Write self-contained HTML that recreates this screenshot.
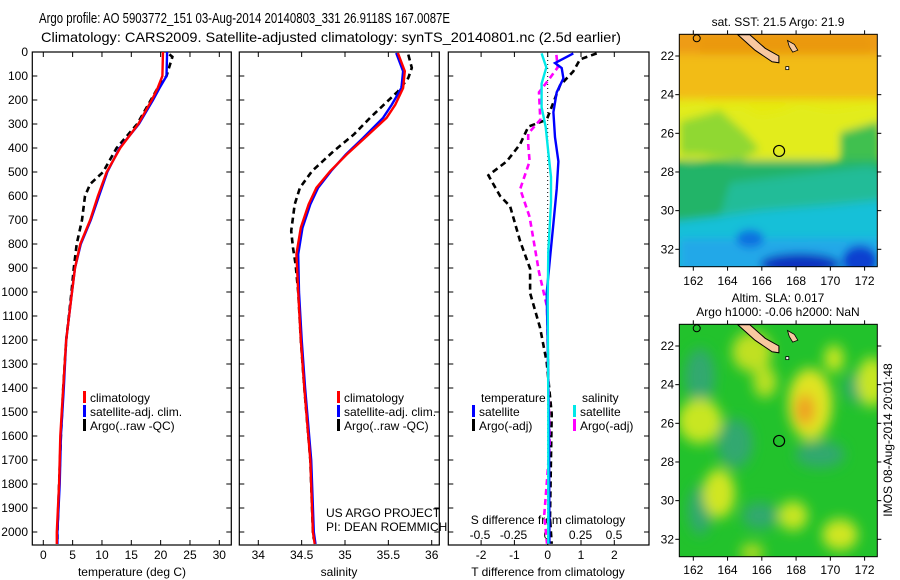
<!DOCTYPE html>
<html><head><meta charset="utf-8">
<style>
body{margin:0;background:#fff;}
svg{display:block;font-family:"Liberation Sans",sans-serif;}
</style></head>
<body>
<svg id="fig" width="900" height="580" viewBox="0 0 900 580" xmlns="http://www.w3.org/2000/svg">
<rect width="900" height="580" fill="#fff"/>
<text x="39" y="23" font-size="14.5" textLength="411" lengthAdjust="spacingAndGlyphs">Argo profile: AO 5903772_151 03-Aug-2014 20140803_331 26.9118S 167.0087E</text>
<text x="41" y="42" font-size="14" textLength="580" lengthAdjust="spacingAndGlyphs">Climatology: CARS2009. Satellite-adjusted climatology: synTS_20140801.nc (2.5d earlier)</text>
<g id="plots"></g>
<defs>
<filter id="blur1" x="-20%" y="-20%" width="140%" height="140%"><feGaussianBlur stdDeviation="4"/></filter>
<filter id="blur2" x="-20%" y="-20%" width="140%" height="140%"><feGaussianBlur stdDeviation="6"/></filter>
<clipPath id="clipTop"><rect x="679.3" y="34.3" width="198" height="232.4"/></clipPath>
<clipPath id="clipBot"><rect x="679.3" y="324.3" width="198" height="232.4"/></clipPath>
</defs>
<g clip-path="url(#clipTop)">
<g transform="translate(0,34.3) scale(1,1.117) translate(0,-32)">
<rect x="679" y="32" width="199" height="209" fill="#e6ea10"/>
<g filter="url(#blur1)">
<rect x="670" y="20" width="220" height="30" fill="#ee9c14"/>
<rect x="700" y="35" width="170" height="25" fill="#ea9810"/>
<rect x="670" y="50" width="220" height="40" fill="#f2bc14"/>
<polygon points="670,95 700,92 720,100 740,96 760,105 780,102 800,95 830,100 870,95 890,100 890,120 870,125 850,118 840,140 800,150 770,145 740,148 720,140 690,145 670,140" fill="#e2ec1a"/>
<polygon points="680,110 720,100 745,120 760,135 740,145 700,140 680,140" fill="#90d830"/>
<polygon points="840,120 880,110 880,150 840,150" fill="#40c050"/>
<rect x="670" y="145" width="220" height="100" fill="#20b468"/>
<polygon points="730,165 870,150 890,160 890,240 700,240 720,195" fill="#20bc98"/>
<polygon points="670,200 720,195 760,190 830,185 890,180 890,250 670,250" fill="#18c0d8"/>
<rect x="680" y="215" width="200" height="30" fill="#20a8e8"/>
<ellipse cx="800" cy="238" rx="40" ry="10" fill="#1030c0"/>
<ellipse cx="860" cy="235" rx="18" ry="14" fill="#1040d0"/>
<ellipse cx="750" cy="215" rx="14" ry="8" fill="#1070e0"/>
</g>
</g>
</g>
<g clip-path="url(#clipBot)">
<g transform="translate(0,324.3) scale(1,1.115) translate(0,-293.3)">
<rect x="679" y="293" width="199" height="210" fill="#22c22c"/>
<g filter="url(#blur2)">
<ellipse cx="700" cy="340" rx="15" ry="25" fill="#30a870"/>
<ellipse cx="735" cy="400" rx="18" ry="22" fill="#30a870"/>
<ellipse cx="700" cy="460" rx="12" ry="22" fill="#30a870"/>
<ellipse cx="820" cy="410" rx="25" ry="12" fill="#30a870"/>
<ellipse cx="858" cy="350" rx="14" ry="14" fill="#30a870"/>
<ellipse cx="760" cy="465" rx="18" ry="12" fill="#30a870"/>
<ellipse cx="752" cy="318" rx="20" ry="18" fill="#c0e020"/>
<ellipse cx="765" cy="345" rx="12" ry="14" fill="#b8e020"/>
<ellipse cx="700" cy="380" rx="22" ry="20" fill="#c8e620"/>
<ellipse cx="810" cy="365" rx="22" ry="32" fill="#e0e420"/>
<ellipse cx="805" cy="370" rx="10" ry="14" fill="#eea020"/>
<ellipse cx="834" cy="324" rx="10" ry="12" fill="#c8e620"/>
<ellipse cx="872" cy="345" rx="15" ry="22" fill="#c8e620"/>
<ellipse cx="719" cy="445" rx="16" ry="22" fill="#d0e620"/>
<ellipse cx="793" cy="465" rx="15" ry="13" fill="#c8e620"/>
<ellipse cx="840" cy="482" rx="18" ry="14" fill="#d0e620"/>
<ellipse cx="752" cy="498" rx="12" ry="8" fill="#b0dc20"/>
</g>
</g>
</g>
<g id="maps"></g>
<text transform="translate(892,440) rotate(-90)" text-anchor="middle" font-size="12">IMOS 08-Aug-2014 20:01:48</text>
</svg>
<script>
// ---------- data ----------
const tempDepth   = [0,100,150,200,300,400,500,600,700,800,900,1000,1200,1400,1600,1800,2000,2050];
const tempClim    = [20.4,20.3,19.5,18.5,16.2,13.1,10.8,9.3,8.0,6.3,5.4,4.9,3.9,3.4,2.9,2.7,2.3,2.3];
const tempSat     = [21.1,21.0,19.8,18.7,16.3,13.0,10.9,9.5,8.1,6.4,5.4,4.9,3.9,3.5,3.0,2.8,2.4,2.4];
const argoTDepth  = [10,20,100,150,300,400,500,550,600,700,800,900,1000,1200,1400,1600,1800,2000,2030];
const argoTemp    = [21.5,22.0,21.0,19.5,16.0,12.5,10.2,8.0,7.1,6.6,5.7,5.2,4.8,3.9,3.4,3.0,2.7,2.4,2.4];

const salDepth    = [4,80,150,219,274,358,427,496,566,635,732,843,1000,1200,1400,1700,2000,2050];
const salClim     = [35.61,35.69,35.67,35.58,35.48,35.23,35.02,34.83,34.67,34.58,34.49,34.44,34.46,34.49,34.53,34.60,34.63,34.65];
const salSat      = [35.59,35.67,35.65,35.54,35.44,35.21,35.01,34.84,34.69,34.60,34.51,34.46,34.47,34.50,34.54,34.61,34.64,34.66];
const argoSDepth  = [11,66,108,164,274,344,413,496,566,635,746,816,885,1000,1200,1400,1700,2000,2030];
const argoSal     = [35.73,35.77,35.73,35.61,35.29,35.10,34.87,34.62,34.48,34.42,34.38,34.40,34.43,34.46,34.49,34.53,34.60,34.63,34.64];

const dTDepth     = [6,46,67,110,168,251,355,456,571,715,859,1004,1220,1559,2049];
const dTSat       = [0.77,0.22,0.42,0.47,0.27,0.17,0.22,0.32,0.27,0.17,0.07,-0.03,0.0,0.04,0.05];
const dTArgoDepth = [6,31,81,139,282,311,384,456,514,600,643,788,903,1004,1148,1292,1508,1941,2049];
const dTArgo      = [1.47,0.97,0.77,0.37,-0.03,-0.58,-0.83,-1.23,-1.78,-1.43,-1.13,-0.83,-0.53,-0.53,-0.23,-0.03,0.12,0.07,0.12];
const dSDepth     = [6,64,132,230,313,417,521,625,729,832,1040,1455,2049];
const dSSat       = [-0.04,-0.005,-0.04,-0.04,-0.01,0.01,0.03,0.03,0.02,0.01,0.005,0.01,0.01];
const dSArgoDepth = [12,64,110,168,282,340,384,456,571,687,917,1062,1351,1639,1927,2049];
const dSArgo      = [0.07,0.08,0.02,-0.06,-0.05,-0.14,-0.14,-0.13,-0.2,-0.13,-0.06,0.0,0.01,0.02,-0.02,0.0];

const depthTicks  = [0,100,200,300,400,500,600,700,800,900,1000,1100,1200,1300,1400,1500,1600,1700,1800,1900,2000];
const tempTicks   = [0,5,10,15,20,25,30];
const salTicks    = [34,34.5,35,35.5,36];
const salTickLabels = ["34","34.5","35","35.5","36"];
const dTTicks     = [-2,-1,0,1,2];
const dSTicks     = [-0.5,-0.25,0,0.25,0.5];
const dSTickLabels = ["-0.5","-0.25","0","0.25","0.5"];
const lonTicks    = [162,164,166,168,170,172];
const latTicks    = [22,24,26,28,30,32];
const argoLon = 167.0087, argoLat = 26.9118;

// ---------- helpers ----------
const NS = "http://www.w3.org/2000/svg";
const root = document.getElementById('plots');
function mk(tag, attrs, parent){
  const e = document.createElementNS(NS, tag);
  for (const k in attrs) e.setAttribute(k, attrs[k]);
  (parent||root).appendChild(e);
  return e;
}
const yD = d => 52 + d*0.24;
const P1 = {l:32.3, r:231.3}, P2 = {l:239.3, r:439.3}, P3 = {l:448.3, r:649};
const TOPY = 52, BOTY = 545;
const xT  = t => 43.3 + t*5.867;
const xS  = s => 258.3 + (s-34)*86.7;
const xdT = t => 547.7 + t*33.3;
const xdS = s => 547 + s*134;

function frame(P, name){
  const r = mk('rect', {x:P.l, y:TOPY, width:P.r-P.l, height:BOTY-TOPY, fill:'none', stroke:'#000', 'stroke-width':1.2});
  
  
  depthTicks.forEach(d=>{
    mk('line',{x1:P.l,x2:P.l+5,y1:yD(d),y2:yD(d),stroke:'#000'});
    mk('line',{x1:P.r,x2:P.r-5,y1:yD(d),y2:yD(d),stroke:'#000'});
  });
}
function xticks(vals, fx, labels, y, name){
  vals.forEach((v,i)=>{
    const x = fx(v);
    mk('line',{x1:x,x2:x,y1:BOTY,y2:BOTY-5,stroke:'#000'});
    mk('line',{x1:x,x2:x,y1:TOPY,y2:TOPY+5,stroke:'#000'});
    if (labels){
      const t = mk('text',{x:x,y:y,'text-anchor':'middle','font-size':12});
      t.textContent = labels[i];
      
      
    }
  });
}
function line(depths, vals, fx, color, dashed, name){
  const pts = depths.map((d,i)=>fx(vals[i]).toFixed(1)+','+yD(d).toFixed(1)).join(' ');
  const attrs = {points:pts, fill:'none', stroke:color, 'stroke-width':dashed?2.6:2.4};
  if (dashed) attrs['stroke-dasharray'] = '6,4';
  const p = mk('polyline', attrs);
  
  
}
function label(x,y,txt,name,opts,parent){
  const t = mk('text', Object.assign({x:x,y:y,'font-size':12}, opts||{}), parent);
  t.textContent = txt;
  
  
  return t;
}
function legendItem(x,y,color,txt,name){
  mk('rect',{x:x,y:y-11,width:3,height:12,fill:color});
  label(x+7,y,txt,name);
}

// ---------- panel 1 ----------
frame(P1,'temperature-panel');
depthTicks.forEach(d=>label(28,yD(d)+4,String(d),'depth-tick-label',{'text-anchor':'end'}));
xticks(tempTicks, xT, tempTicks.map(String), 559, 'temperature-tick-label');
label(132,576,'temperature (deg C)','temperature-axis-title',{'text-anchor':'middle'});
line(argoTDepth, argoTemp, xT, '#000', true, 'argo-temperature-line');
line(tempDepth, tempSat, xT, '#0000ff', false, 'satellite-temperature-line');
line(tempDepth, tempClim, xT, '#ff0000', false, 'climatology-temperature-line');
legendItem(83,402,'#ff0000','climatology','legend-climatology');
legendItem(83,416,'#0000ff','satellite-adj. clim.','legend-satellite');
legendItem(83,430,'#000','Argo(..raw -QC)','legend-argo');

// ---------- panel 2 ----------
frame(P2,'salinity-panel');
xticks(salTicks, xS, salTickLabels, 559, 'salinity-tick-label');
label(339,576,'salinity','salinity-axis-title',{'text-anchor':'middle'});
line(argoSDepth, argoSal, xS, '#000', true, 'argo-salinity-line');
line(salDepth, salSat, xS, '#0000ff', false, 'satellite-salinity-line');
line(salDepth, salClim, xS, '#ff0000', false, 'climatology-salinity-line');
legendItem(337,402,'#ff0000','climatology','legend-climatology-2');
legendItem(337,416,'#0000ff','satellite-adj. clim.','legend-satellite-2');
legendItem(337,430,'#000','Argo(..raw -QC)','legend-argo-2');
label(326,517,'US ARGO PROJECT','project-label');
label(326,531,'PI: DEAN ROEMMICH','pi-label');

// ---------- panel 3 ----------
frame(P3,'difference-panel');
xticks(dTTicks, xdT, dTTicks.map(String), 559, 'dt-tick-label');
dSTicks.forEach((v,i)=>label(xdS(v),539,dSTickLabels[i],'ds-tick-label',{'text-anchor':'middle'}));
label(548,576,'T difference from climatology','dt-axis-title',{'text-anchor':'middle'});
label(548,524,'S difference from climatology','ds-axis-title',{'text-anchor':'middle'});
mk('line',{x1:xdT(0),x2:xdT(0),y1:TOPY,y2:BOTY,stroke:'#000','stroke-width':1,'stroke-dasharray':'1,3'});
line(dTArgoDepth, dTArgo, xdT, '#000', true, 'argo-dt-line');
line(dSArgoDepth, dSArgo, xdS, '#ff00ff', true, 'argo-ds-line');
line(dTDepth, dTSat, xdT, '#0000ff', false, 'satellite-dt-line');
line(dSDepth, dSSat, xdS, '#00e8e8', false, 'satellite-ds-line');
label(481,402,'temperature','legend-temperature-header');
legendItem(472,416,'#0000ff','satellite','legend-t-satellite');
legendItem(472,430,'#000','Argo(-adj)','legend-t-argo');
label(582,402,'salinity','legend-salinity-header');
legendItem(573,416,'#00e8e8','satellite','legend-s-satellite');
legendItem(573,430,'#ff00ff','Argo(-adj)','legend-s-argo');

// ---------- maps ----------
const mroot = document.getElementById('maps');
const xLon = lon => 693.3 + (lon-162)*17.13;
function mapAxes(y0, y1, yLat, name, lonLabelY){
  const r = mk('rect',{x:679.3,y:y0,width:198,height:y1-y0,fill:'none',stroke:'#000','stroke-width':1}, mroot);
  
  
  const nc = [[164.6,20.9],[165.3,20.9],[166.2,21.6],[167.0,22.0],[167.0,22.35],[166.6,22.3],[165.6,21.7]];
  const isl = mk('polygon',{points:nc.map(p=>xLon(p[0]).toFixed(1)+','+Math.max(y0,yLat(p[1])).toFixed(1)).join(' '),fill:'#f8c8a0',stroke:'#000','stroke-width':1}, mroot);
  
  
  mk('polygon',{points:[[167.5,21.2],[167.9,21.4],[168.1,21.7],[167.8,21.8],[167.6,21.5]].map(p=>xLon(p[0]).toFixed(1)+','+yLat(p[1]).toFixed(1)).join(' '),fill:'#f8c8a0',stroke:'#000','stroke-width':0.8}, mroot);
  mk('circle',{cx:xLon(162.2),cy:y0+4,r:3.5,fill:'none',stroke:'#000'}, mroot);
  mk('rect',{x:xLon(167.4),y:yLat(22.55),width:3,height:3,fill:'#fff',stroke:'#000','stroke-width':0.8}, mroot);
  const c = mk('circle',{cx:xLon(argoLon),cy:yLat(argoLat),r:5.5,fill:'none',stroke:'#000','stroke-width':1.2}, mroot);
  
  
  lonTicks.forEach(l=>{
    const x = xLon(l);
    mk('line',{x1:x,x2:x,y1:y1,y2:y1+4,stroke:'#000'}, mroot);
    mk('line',{x1:x,x2:x,y1:y0,y2:y0-4,stroke:'#000'}, mroot);
    label(x,lonLabelY,String(l),'longitude-tick-label',{'text-anchor':'middle'},mroot);
  });
  latTicks.forEach(l=>{
    const y = yLat(l);
    mk('line',{x1:679.3,x2:675.3,y1:y,y2:y,stroke:'#000'}, mroot);
    mk('line',{x1:877.3,x2:881.3,y1:y,y2:y,stroke:'#000'}, mroot);
    label(674,y+4,String(l),'latitude-tick-label',{'text-anchor':'end'},mroot);
  });
}
mapAxes(34.3, 266.7, lat=>56+(lat-22)*19.33, 'sst-map-frame', 285);
mapAxes(324.3, 556.7, lat=>346+(lat-22)*19.33, 'sla-map-frame', 574);
label(778,26,'sat. SST: 21.5 Argo: 21.9','sst-map-title',{'text-anchor':'middle'},mroot);
label(778,302,'Altim. SLA: 0.017','sla-map-title',{'text-anchor':'middle'},mroot);
label(778,316,'Argo h1000: -0.06 h2000: NaN','argo-height-label',{'text-anchor':'middle'},mroot);
</script>
</body></html>
